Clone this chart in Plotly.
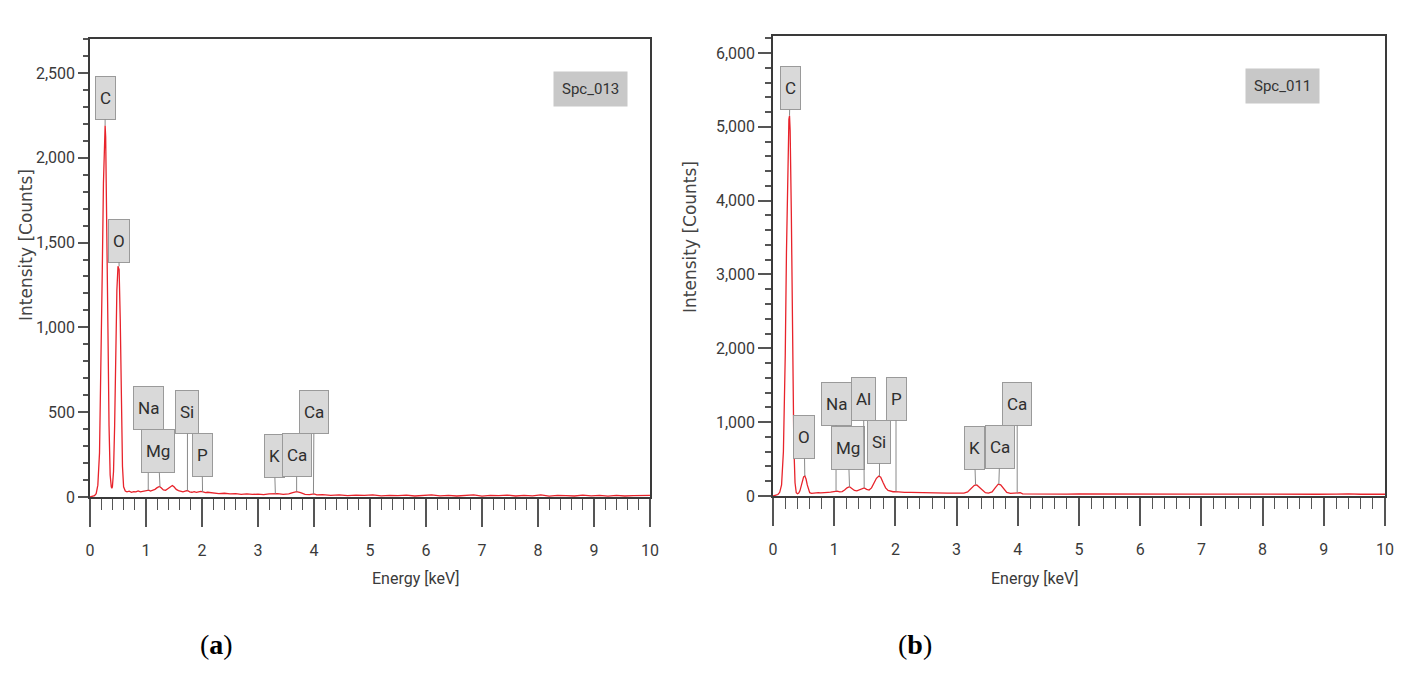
import plotly.graph_objects as go

# ---- spectrum (a): Spc_013 ----
a_energy = [0.00, 0.04, 0.08, 0.11, 0.14, 0.17, 0.20, 0.22, 0.24, 0.26, 0.27, 0.28, 0.30, 0.32, 0.34,
            0.36, 0.38, 0.39, 0.40, 0.42, 0.44, 0.46, 0.48, 0.50, 0.52, 0.54, 0.56, 0.58, 0.60, 0.63,
            0.66, 0.70, 0.74, 0.78, 0.82, 0.86, 0.90, 0.94, 0.98, 1.02, 1.05, 1.08, 1.12, 1.16, 1.20,
            1.24, 1.27, 1.31, 1.35, 1.39, 1.43, 1.47, 1.50, 1.54, 1.58, 1.62, 1.66, 1.70, 1.74, 1.78,
            1.82, 1.86, 1.90, 1.94, 1.98, 2.02, 2.06, 2.10, 2.20, 2.30, 2.40, 2.50, 2.60, 2.70, 2.80,
            2.90, 3.00, 3.10, 3.20, 3.30, 3.35, 3.45, 3.55, 3.62, 3.69, 3.76, 3.84, 3.92, 4.00, 4.05,
            4.15, 4.30, 4.45, 4.60, 4.75, 4.90, 5.05, 5.20, 5.35, 5.50, 5.65, 5.80, 5.95, 6.10, 6.25,
            6.40, 6.55, 6.70, 6.85, 7.00, 7.15, 7.30, 7.45, 7.60, 7.75, 7.90, 8.05, 8.20, 8.35, 8.50,
            8.65, 8.80, 8.95, 9.10, 9.25, 9.40, 9.55, 9.70, 9.85, 10.00]
a_counts = [0, 2, 8, 20, 70, 260, 800, 1350, 1850, 2150, 2190, 2120, 1700, 1000, 420,
            130, 60, 52, 60, 150, 420, 850, 1220, 1360, 1340, 1050, 560, 180, 60, 35,
            30, 34, 28, 32, 30, 36, 30, 33, 38, 42, 40, 35, 38, 45, 55,
            62, 55, 42, 40, 48, 58, 68, 60, 45, 38, 34, 30, 34, 38, 30,
            28, 32, 27, 30, 33, 30, 26, 28, 24, 20, 22, 18, 20, 16, 18,
            15, 17, 14, 18, 22, 20, 16, 18, 26, 32, 26, 16, 14, 18, 12,
            14, 10, 12, 8, 11, 9, 12, 7, 10, 8, 11, 6, 9, 12, 7,
            10, 6, 9, 12, 5, 10, 8, 11, 6, 9, 7, 12, 5, 10, 8,
            6, 11, 7, 9, 5, 10, 6, 8, 7, 9]
a_elements = ["C", "O", "Na", "Mg", "Si", "P", "K", "Ca", "Ca"]
a_line_kev = [0.27, 0.52, 1.04, 1.25, 1.74, 2.01, 3.31, 3.69, 3.99]
a_line_counts = [2190, 1360, 40, 60, 38, 30, 20, 32, 18]

# ---- spectrum (b): Spc_011 ----
b_energy = [0.00, 0.04, 0.08, 0.11, 0.14, 0.17, 0.20, 0.22, 0.24, 0.26, 0.27, 0.28, 0.30, 0.32, 0.34,
            0.36, 0.38, 0.40, 0.42, 0.44, 0.46, 0.48, 0.50, 0.52, 0.54, 0.56, 0.58, 0.60, 0.63,
            0.66, 0.70, 0.74, 0.78, 0.82, 0.86, 0.90, 0.94, 0.98, 1.02, 1.05, 1.09, 1.13, 1.17, 1.21,
            1.25, 1.29, 1.33, 1.37, 1.41, 1.45, 1.49, 1.53, 1.57, 1.61, 1.65, 1.69, 1.73, 1.76, 1.80,
            1.84, 1.88, 1.92, 1.96, 2.00, 2.04, 2.08, 2.15, 2.25, 2.35, 2.45, 2.55, 2.65, 2.75, 2.85,
            2.95, 3.05, 3.12, 3.18, 3.24, 3.29, 3.33, 3.37, 3.42, 3.47, 3.52, 3.58, 3.63, 3.68, 3.72,
            3.77, 3.82, 3.88, 3.94, 4.00, 4.04, 4.08, 4.20, 4.40, 4.60, 4.80, 5.00, 5.30, 5.60, 5.90,
            6.20, 6.50, 6.80, 7.10, 7.40, 7.70, 8.00, 8.30, 8.60, 8.90, 9.20, 9.40, 9.60, 9.80, 10.00]
b_counts = [0, 5, 20, 50, 150, 600, 1900, 3300, 4500, 5100, 5150, 4950, 3800, 2000, 700,
            180, 45, 30, 40, 70, 130, 210, 260, 270, 230, 150, 80, 45, 35,
            40, 38, 45, 42, 48, 45, 50, 52, 55, 68, 65, 55, 60, 80, 110,
            125, 105, 75, 70, 85, 105, 110, 90, 80, 110, 170, 240, 270, 255, 180,
            110, 75, 62, 58, 60, 55, 52, 50, 48, 45, 46, 42, 44, 40, 38,
            40, 36, 40, 55, 100, 145, 150, 120, 70, 45, 40, 55, 110, 160, 150,
            95, 50, 35, 40, 45, 44, 30, 28, 27, 28, 26, 27, 25, 26, 25,
            26, 24, 25, 26, 24, 25, 24, 25, 23, 24, 25, 30, 24, 25, 24]
b_elements = ["C", "O", "Na", "Mg", "Al", "Si", "P", "K", "Ca", "Ca"]
b_line_kev = [0.27, 0.52, 1.03, 1.25, 1.49, 1.74, 2.01, 3.31, 3.69, 3.99]
b_line_counts = [5150, 270, 65, 125, 110, 270, 60, 150, 160, 45]

# label box centres (layout), keV / counts
a_box_x = [0.27, 0.51, 1.04, 1.22, 1.74, 2.00, 3.29, 3.69, 4.00]
a_box_y = [2353, 1512, 523, 270, 500, 247, 241, 247, 500]
b_box_x = [0.28, 0.51, 1.03, 1.23, 1.48, 1.74, 2.01, 3.29, 3.71, 3.99]
b_box_y = [5522, 800, 1248, 651, 1316, 733, 1316, 651, 665, 1248]

W, H = 1418, 684
OFF = 8  # page body margin pushes the figure down/right
narrow = "Roboto, Open Sans, sans-serif"
red = "#e8232b"
axis_col = "#3a3a3a"


def px(x):
    return (x - OFF) / W


def py(y):
    return 1 - (y - OFF) / H


fig = go.Figure()
fig.add_trace(go.Scatter(x=a_energy, y=a_counts, mode="lines", line=dict(color=red, width=1.3),
                         xaxis="x", yaxis="y", showlegend=False))
fig.add_trace(go.Scatter(x=b_energy, y=b_counts, mode="lines", line=dict(color=red, width=1.3),
                         xaxis="x2", yaxis="y2", showlegend=False))

xcommon = dict(range=[0, 10], tick0=0, dtick=1, ticks="outside", ticklen=28, tickwidth=1.5,
               tickcolor="#555", showline=True, linecolor=axis_col, linewidth=1.5, mirror=True,
               showgrid=False, zeroline=False, ticklabelstandoff=10, automargin=False,
               tickfont=dict(family=narrow, size=16, color=axis_col),
               minor=dict(dtick=0.2, ticks="outside", ticklen=11, tickwidth=1.2, tickcolor="#555"))
ycommon = dict(ticks="outside", tickwidth=1.5, tickcolor="#555", showline=True, linecolor=axis_col,
               linewidth=1.5, mirror=True, showgrid=False, zeroline=False, tickformat=",",
               automargin=False, tickfont=dict(family=narrow, size=16, color=axis_col))

fig.update_layout(
    width=W, height=H, margin=dict(l=0, r=0, t=0, b=0, autoexpand=False),
    paper_bgcolor="white", plot_bgcolor="white",
    xaxis=dict(domain=[px(90), px(650)], anchor="y", **xcommon),
    yaxis=dict(domain=[py(497), py(39)], anchor="x", range=[0, 2700], dtick=500, ticklen=10,
               minor=dict(dtick=100, ticks="outside", ticklen=5, tickcolor="#555"), **ycommon),
    xaxis2=dict(domain=[px(773), px(1385)], anchor="y2", **xcommon),
    yaxis2=dict(domain=[py(496), py(36)], anchor="x2", range=[0, 6230], dtick=1000, ticklen=13,
                minor=dict(dtick=200, ticks="outside", ticklen=6, tickcolor="#555"), **ycommon),
)

annotations = []


def add_labels(names, tip_x, tip_y, box_x, box_y, xref, yref):
    for name, tx, ty, bx, by in zip(names, tip_x, tip_y, box_x, box_y):
        annotations.append(dict(
            x=tx, y=ty, xref=xref, yref=yref, ax=bx, ay=by, axref=xref, ayref=yref,
            text=name, showarrow=True, arrowhead=0, arrowwidth=1, arrowcolor="#8a8a8a", standoff=0,
            bgcolor="#d9d9d9", bordercolor="#9a9a9a", borderwidth=1, borderpad=4, height=34,
            font=dict(family=narrow, size=17, color="#2e2e2e")))


add_labels(a_elements, a_line_kev, a_line_counts, a_box_x, a_box_y, "x", "y")
add_labels(b_elements, b_line_kev, b_line_counts, b_box_x, b_box_y, "x2", "y2")

# spectrum name tags
for name, cx, cy in [("Spc_013", 590, 71), ("Spc_011", 1320, 68)]:
    annotations.append(dict(x=px(cx), y=py(cy), xref="paper", yref="paper", text=name, showarrow=False,
                            bgcolor="#c8c8c8", borderpad=8,
                            font=dict(family=narrow, size=15, color="#333")))

# axis titles
for cx, cy in [(14, 245), (690, 237)]:
    annotations.append(dict(x=px(cx), y=py(cy), xref="paper", yref="paper", text="Intensity [Counts]",
                            showarrow=False, textangle=-90,
                            font=dict(family="DejaVu Sans", size=17, color="#444")))
for cx, cy in [(370, 590), (1080, 590)]:
    annotations.append(dict(x=px(cx), y=py(cy), xref="paper", yref="paper", text="Energy [keV]",
                            showarrow=False, font=dict(family=narrow, size=16, color=axis_col)))

# panel letters
for cx, letter in [(198, "a"), (915, "b")]:
    annotations.append(dict(x=px(cx), y=py(662), xref="paper", yref="paper",
                            text="(<b>%s</b>)" % letter, showarrow=False,
                            font=dict(family="Liberation Serif, Times New Roman, serif", size=28,
                                      color="black")))

fig.update_layout(annotations=annotations)
fig.write_html("out.html")
